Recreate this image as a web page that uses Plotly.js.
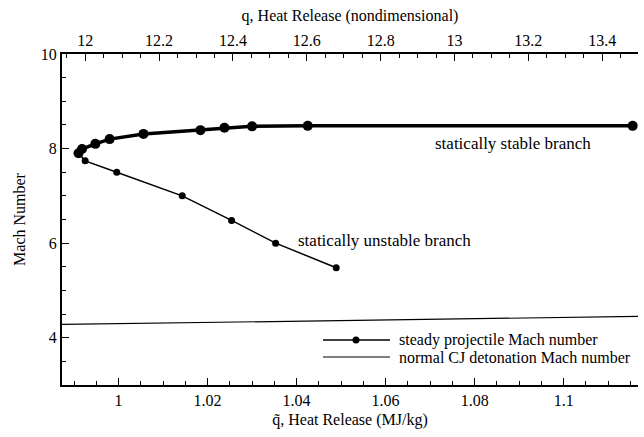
<!DOCTYPE html>
<html>
<head>
<meta charset="utf-8">
<script src="https://cdn.plot.ly/plotly-3.0.1.min.js"></script>
<style>html,body{margin:0;padding:0;background:#fff;}#chart{width:644px;height:437px;}</style>
</head>
<body>
<div id="chart"></div>
<script>
// Data
const stableQ = [0.9910, 0.9918, 0.9948, 0.9980, 1.0056, 1.0184, 1.0238, 1.0300, 1.0425, 1.1155];
const stableM = [7.90, 7.99, 8.10, 8.20, 8.31, 8.39, 8.44, 8.47, 8.48, 8.48];
const unstableQ = [0.9910, 0.9925, 0.9996, 1.0143, 1.0254, 1.0353, 1.0489];
const unstableM = [7.90, 7.74, 7.50, 7.00, 6.48, 6.00, 5.48];
const cjQ = [0.9873, 1.1167];
const cjM = [4.28, 4.45];
const bottomRange = [0.9873, 1.1167];
const topRange = [11.937, 13.497];
const yRange = [3, 10];
const seriesNames = ["steady projectile Mach number", "normal CJ detonation Mach number"];
const labelStable = "statically stable branch";
const labelUnstable = "statically unstable branch";

const FONT = "Liberation Serif";

const traces = [
  {x: unstableQ, y: unstableM, type: 'scatter', mode: 'lines+markers', name: seriesNames[0],
   line: {color: '#000', width: 1.5}, marker: {color: '#000', size: 7}, showlegend: false},
  {x: stableQ, y: stableM, type: 'scatter', mode: 'lines+markers', name: seriesNames[0],
   line: {color: '#000', width: 3.5}, marker: {color: '#000', size: 10}, showlegend: false},
  {x: cjQ, y: cjM, type: 'scatter', mode: 'lines', name: seriesNames[1],
   line: {color: '#000', width: 1.2}, showlegend: false},
  {x: topRange, y: [yRange[0], yRange[0]], xaxis: 'x2', type: 'scatter', mode: 'markers',
   marker: {opacity: 0}, showlegend: false, hoverinfo: 'skip'}
];

const axisCommon = {
  showgrid: false, zeroline: false, showline: true, linecolor: '#000', linewidth: 2,
  ticks: 'inside', tickcolor: '#000', tickwidth: 1, ticklen: 7,
  tickfont: {family: FONT, size: 16, color: '#000'}
};

// legend drawn in paper coordinates (plot area: 62..638 px wide, 54..385 px tall)
const PX = px => (px - 62) / 576;
const PY = py => (385 - py) / 331;
const legendShapes = [
  {type: 'line', xref: 'paper', yref: 'paper', x0: PX(323), x1: PX(390), y0: PY(340), y1: PY(340), line: {color: '#000', width: 1.5}},
  {type: 'circle', xref: 'paper', yref: 'paper', x0: PX(352.5), x1: PX(359.5), y0: PY(343.5), y1: PY(336.5), fillcolor: '#000', line: {color: '#000', width: 0}},
  {type: 'line', xref: 'paper', yref: 'paper', x0: PX(323), x1: PX(390), y0: PY(357), y1: PY(357), line: {color: '#000', width: 1.2}}
];
const legendTexts = seriesNames.map((t, i) => ({
  x: PX(397), y: PY(i === 0 ? 340 : 357), xref: 'paper', yref: 'paper', text: t, showarrow: false,
  xanchor: 'left', yanchor: 'middle', font: {family: FONT, size: 16, color: '#000'}
}));

const layout = {
  width: 644, height: 437,
  margin: {l: 62, r: 6, t: 54, b: 52},
  paper_bgcolor: '#fff', plot_bgcolor: '#fff',
  font: {family: FONT, color: '#000'},
  xaxis: Object.assign({}, axisCommon, {
    range: bottomRange, dtick: 0.02, tick0: 1,
    minor: {dtick: 0.005, ticks: 'inside', ticklen: 4, tickcolor: '#000', showgrid: false},
    title: {text: 'q\u0303, Heat Release (MJ/kg)', font: {family: FONT, size: 16, color: '#000'}, standoff: 6},
    anchor: 'y'
  }),
  xaxis2: Object.assign({}, axisCommon, {
    range: topRange, dtick: 0.2, tick0: 12, overlaying: 'x', side: 'top', anchor: 'y',
    minor: {dtick: 0.05, ticks: 'inside', ticklen: 4, tickcolor: '#000', showgrid: false},
    title: {text: 'q, Heat Release (nondimensional)', font: {family: FONT, size: 16, color: '#000'}, standoff: 6}
  }),
  yaxis: Object.assign({}, axisCommon, {
    range: yRange, dtick: 2, tick0: 0,
    minor: {dtick: 0.5, ticks: 'inside', ticklen: 4, tickcolor: '#000', showgrid: false},
    title: {text: 'Mach Number', font: {family: FONT, size: 16, color: '#000'}, standoff: 11}
  }),
  showlegend: false,
  shapes: legendShapes,
  annotations: [
    {x: 1.0706, y: 8.10, xref: 'x', yref: 'y', text: labelStable, showarrow: false,
     xanchor: 'left', yanchor: 'middle', font: {family: FONT, size: 17, color: '#000'}},
    {x: 1.0399, y: 6.05, xref: 'x', yref: 'y', text: labelUnstable, showarrow: false,
     xanchor: 'left', yanchor: 'middle', font: {family: FONT, size: 17, color: '#000'}}
  ].concat(legendTexts)
};

Plotly.newPlot('chart', traces, layout, {displayModeBar: false, staticPlot: true});
</script>
</body>
</html>
